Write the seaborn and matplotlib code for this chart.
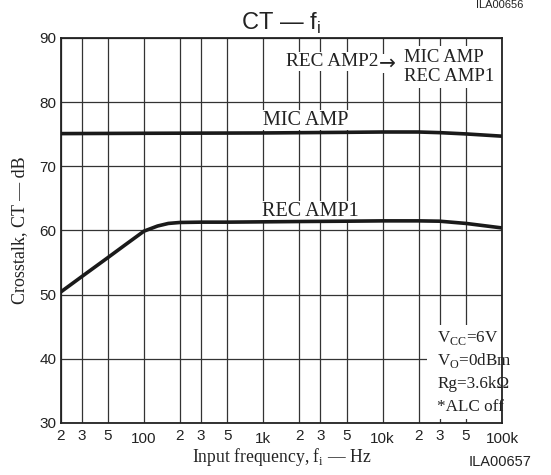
import numpy as np
import pandas as pd
import matplotlib
matplotlib.use("Agg")
import matplotlib.pyplot as plt
import matplotlib.ticker as mticker
import seaborn as sns

# ---- data ----
rec_freq = [20, 30, 50, 70, 100, 130, 160, 200, 300, 500, 1000, 2000, 5000, 10000, 20000, 30000, 50000, 100000]
rec_ct   = [50.4, 52.8, 55.8, 57.8, 59.9, 60.7, 61.1, 61.25, 61.3, 61.3, 61.35, 61.4, 61.45, 61.5, 61.5, 61.45, 61.1, 60.4]
mic_freq = [20, 100, 1000, 5000, 10000, 20000, 30000, 50000, 100000]
mic_ct   = [75.1, 75.15, 75.2, 75.3, 75.35, 75.35, 75.25, 75.05, 74.7]

x_ticks = [20, 30, 50, 100, 200, 300, 500, 1000, 2000, 3000, 5000, 10000,
           20000, 30000, 50000, 100000]
x_labels = ["2", "3", "5", "100", "2", "3", "5", "1k", "2", "3", "5", "10k",
            "2", "3", "5", "100k"]
y_ticks = [30, 40, 50, 60, 70, 80, 90]

df = pd.concat([
    pd.DataFrame({"f": rec_freq, "ct": rec_ct, "s": "REC AMP1"}),
    pd.DataFrame({"f": mic_freq, "ct": mic_ct, "s": "MIC AMP"}),
])

sns.set_theme(style="white")
plt.rcParams["font.family"] = ["Liberation Sans", "DejaVu Sans"]
plt.rcParams["mathtext.fontset"] = "custom"
plt.rcParams["mathtext.rm"] = "Liberation Serif"

fig = plt.figure(figsize=(5.51, 4.75), dpi=100)
ax = fig.add_axes([0.110, 0.1095, 0.801, 0.8105])

sns.lineplot(data=df, x="f", y="ct", hue="s", palette=["#1a1a1a", "#1a1a1a"],
             linewidth=2.6, legend=False, ax=ax, zorder=5, sort=True)

ax.set_xscale("log")
ax.set_xlim(20, 100000)
ax.set_ylim(30, 90)

ax.xaxis.set_major_locator(mticker.FixedLocator(x_ticks))
ax.xaxis.set_minor_locator(mticker.NullLocator())
ax.set_xticks(x_ticks)
ax.set_xticklabels(x_labels)
ax.set_yticks(y_ticks)
ax.set_yticklabels([str(v) for v in y_ticks])

# decade labels sit slightly lower
for lab, txt in zip(ax.get_xticklabels(), x_labels):
    if txt in ("100", "1k", "10k", "100k"):
        lab.set_y(-0.008)

ax.tick_params(axis="both", direction="in", length=4, width=0.9, color="#222222",
               labelsize=11, labelcolor="#222222", pad=3)
ax.tick_params(axis="x", pad=4)

ax.grid(True, which="major", color="#333333", linewidth=0.9)
ax.set_axisbelow(True)
for sp in ax.spines.values():
    sp.set_color("#222222")
    sp.set_linewidth(1.3)
    sp.set_visible(True)

serif = ["Liberation Serif", "DejaVu Serif"]
ax.set_xlabel("Input frequency, f$_{\\mathregular{i}}$ — Hz", family=serif,
              fontsize=12.7, color="#222222", labelpad=0)
ax.set_ylabel("Crosstalk, CT — dB", family=serif, fontsize=13,
              color="#222222", labelpad=8)
ax.set_title("CT — f$_{\\mathregular{i}}$", fontsize=17, color="#222222", pad=6)

box = dict(facecolor="white", edgecolor="none", pad=0.5)
ax.text(2250, 77.2, "MIC AMP", family=serif, fontsize=14.5, color="#222222",
        ha="center", va="center", bbox=box, zorder=3)
ax.text(2500, 63.0, "REC AMP1", family=serif, fontsize=14.5, color="#222222",
        ha="center", va="center", bbox=box, zorder=3)

# top-right note
ax.text(9300, 86.3, "REC AMP2", family=serif, fontsize=13.9, color="#222222",
        ha="right", va="center", bbox=box, zorder=3)
ax.text(0.722, 0.934, "\u2192", transform=ax.transAxes,
        family=["DejaVu Sans"], fontsize=14.5, color="#222222",
        ha="left", va="center", zorder=3,
        bbox=dict(facecolor="white", edgecolor="none", pad=0.0))
ax.text(0.778, 0.925, "MIC AMP\nREC AMP1", transform=ax.transAxes, family=serif,
        fontsize=13.5, color="#222222", ha="left", va="center",
        linespacing=1.15, zorder=3,
        bbox=dict(facecolor="white", edgecolor="none", pad=2.0))

# bottom-right conditions box
ax.add_patch(plt.Rectangle((0.83, 0.01), 0.168, 0.245, transform=ax.transAxes,
                           facecolor="white", edgecolor="none", zorder=2))
cond = ["V$_{\\mathregular{CC}}$=6V", "V$_{\\mathregular{O}}$=0dBm",
        "Rg=3.6k\u03a9", "*ALC off"]
for i, t in enumerate(cond):
    ax.text(0.853, 0.222 - i * 0.06, t, transform=ax.transAxes, family=serif,
            fontsize=12.3, color="#222222", ha="left", va="center", zorder=3)

fig.text(0.907, 0.027, "ILA00657", fontsize=10.5, color="#222222", ha="center",
         va="center")
fig.text(0.907, 0.999, "ILA00656", fontsize=8, color="#222222", ha="center",
         va="top")

fig.savefig("out.png", dpi=100)
